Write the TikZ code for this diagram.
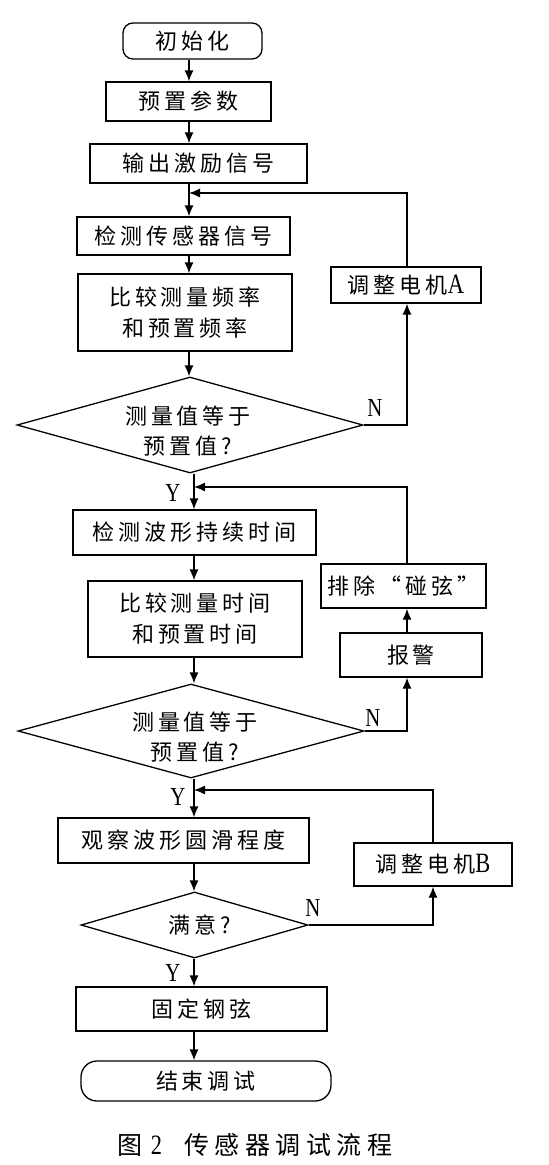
\documentclass[tikz,border=0pt]{standalone}
\usepackage{fontspec}
\usetikzlibrary{arrows.meta,shapes.geometric}
\newfontfamily\cjk[LetterSpace=18]{Noto Sans CJK SC}
\newfontfamily\cjkcap[LetterSpace=22]{Noto Sans CJK SC}
\newfontfamily\lat[FakeStretch=0.8]{Liberation Serif}
\newcommand{\biglat}[1]{{\lat\fontsize{28}{28}\selectfont #1}}
\begin{document}
\begin{tikzpicture}[x=1pt,y=-1pt,
  box/.style={draw,line width=1.3pt,inner sep=0pt,font=\cjk\fontsize{22}{31}\selectfont,align=center},
  term/.style={box,rounded corners=10pt},
  dia/.style={draw,line width=1.3pt,diamond,inner sep=0pt,aspect=3},
  dtext/.style={inner sep=0pt,font=\cjk\fontsize{22}{30}\selectfont,align=center},
  arr/.style={line width=1.3pt,-{Latex[length=11pt,width=9pt]}},
  lab/.style={font=\lat\fontsize{26}{26}\selectfont,inner sep=0pt}]
\useasboundingbox[fill=white] (0,0) rectangle (549,1165);
\coordinate (c1) at (189,0);
\coordinate (c2) at (194,0);
\coordinate (cR) at (407,0);
% main column
\node[term,minimum width=139pt,minimum height=36pt] (init) at (192.5,41) {初始化};
\node[box,minimum width=165pt,minimum height=39pt] (preset) at (188.5,101.5) {预置参数};
\node[box,minimum width=217pt,minimum height=39pt] (output) at (198.5,163.5) {输出激励信号};
\node[box,minimum width=213pt,minimum height=38pt] (detect) at (183.5,236) {检测传感器信号};
\node[box,minimum width=214pt,minimum height=77pt] (cmpf) at (185,312.5) {比较测量频率\\和预置频率};
\node[dia,minimum width=346pt,minimum height=96pt] (d1) at (190,425) {};
\node[dtext] (d1t) at (188,431) {测量值等于\\预置值?};
\node[box,minimum width=243pt,minimum height=45pt] (detw) at (194.5,532.5) {检测波形持续时间};
\node[box,minimum width=214pt,minimum height=76pt] (cmpt) at (195,619) {比较测量时间\\和预置时间};
\node[dia,minimum width=346pt,minimum height=94pt] (d2) at (191,731) {};
\node[dtext] (d2t) at (195,737) {测量值等于\\预置值?};
\node[box,minimum width=251pt,minimum height=45pt] (obs) at (183.5,840.5) {观察波形圆滑程度};
\node[dia,minimum width=227pt,minimum height=66pt] (d3) at (194.5,925) {};
\node[dtext] (d3t) at (200,925) {满意?};
\node[box,minimum width=251pt,minimum height=44pt] (fix) at (201.5,1009) {固定钢弦};
\node[term,rounded corners=16pt,minimum width=250pt,minimum height=40pt] (end) at (206,1081) {结束调试};
% side boxes
\node[box,minimum width=150pt,minimum height=36pt] (motA) at (406,285) {调整电机\biglat{A}};
\node[box,minimum width=165pt,minimum height=44pt] (remove) at (403.5,586) {排除“碰弦”};
\node[box,minimum width=142pt,minimum height=44pt] (alarm) at (411,655) {报警};
\node[box,minimum width=158pt,minimum height=43pt] (motB) at (433,864.5) {调整电机\biglat{B}};
% caption
\node[font=\cjkcap\fontsize{25}{25}\selectfont,inner sep=0pt] (cap) at (255,1145) {图\hspace{8pt}\biglat{2}\hspace{22pt}传感器调试流程};
% junctions
\coordinate (jA) at (189,193);
\coordinate (jB) at (194,487);
\coordinate (jC) at (194,790);
% main arrows
\draw[arr] (init.south -| c1) -- (preset.north -| c1);
\draw[arr] (preset.south -| c1) -- (output.north -| c1);
\draw[arr] (output.south -| c1) -- (detect.north -| c1);
\draw[arr] (detect.south -| c1) -- (cmpf.north -| c1);
\draw[arr] (cmpf.south -| c1) -- (d1.north -| c1);
\draw[arr] (d1.south -| c2) -- (detw.north -| c2);
\draw[arr] (detw.south -| c2) -- (cmpt.north -| c2);
\draw[arr] (cmpt.south -| c2) -- (d2.north -| c2);
\draw[arr] (d2.south -| c2) -- (obs.north -| c2);
\draw[arr] (obs.south -| c2) -- (d3.north -| c2);
\draw[arr] (d3.south -| c2) -- (fix.north -| c2);
\draw[arr] (fix.south -| c2) -- (end.north -| c2);
% loops
\draw[arr] (d1.east) -| (motA.south -| cR);
\draw[arr] (motA.north -| cR) |- (jA);
\draw[arr] (d2.east) -| (alarm.south -| cR);
\draw[arr] (alarm.north -| cR) -- (remove.south -| cR);
\draw[arr] (remove.north -| cR) |- (jB);
\draw[arr] (d3.east) -| (motB.south);
\draw[arr] (motB.north) |- (jC);
% labels
\node[lab] (n1) at (375,408) {N};
\node[lab] (n2) at (373,718) {N};
\node[lab] (n3) at (313,908) {N};
\node[lab] (y1) at (173,493) {Y};
\node[lab] (y2) at (178,797) {Y};
\node[lab] (y3) at (173,973) {Y};
\end{tikzpicture}
\end{document}
